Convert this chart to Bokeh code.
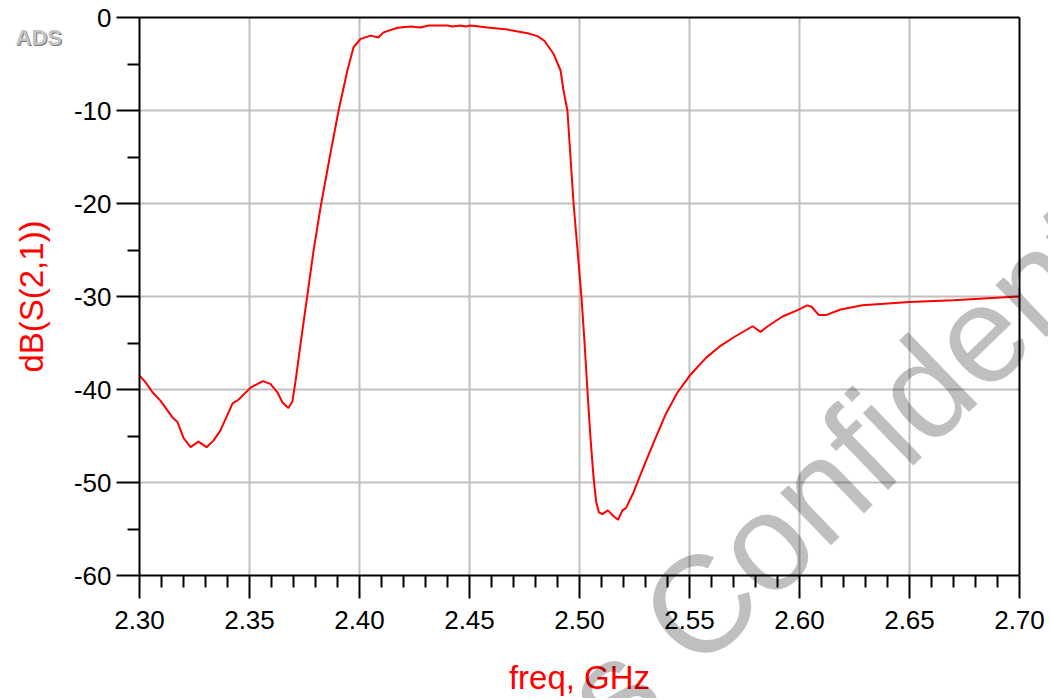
import math
from bokeh.plotting import figure
from bokeh.models import FixedTicker, NumeralTickFormatter, Label, Range1d, LinearAxis
from bokeh.embed import file_html
from bokeh.resources import INLINE

# ---- data ----
freq_ghz = [
    2.3000, 2.3027, 2.3059, 2.3095, 2.3150, 2.3173, 2.3200, 2.3232, 2.3268, 2.3305,
    2.3336, 2.3368, 2.3423, 2.3450, 2.3505, 2.3560, 2.3595, 2.3627, 2.3650, 2.3677,
    2.3695, 2.3710, 2.3732, 2.3764, 2.3791, 2.3823, 2.3868, 2.3905, 2.3945, 2.3973,
    2.4005, 2.4050, 2.4086, 2.4109, 2.4173, 2.4232, 2.4277, 2.4314, 2.4400, 2.4423,
    2.4459, 2.4482, 2.4505, 2.4582, 2.4673, 2.4764, 2.4809, 2.4840, 2.4882, 2.4914,
    2.4927, 2.4945, 2.4959, 2.4973, 2.4991, 2.5009, 2.5023, 2.5036, 2.5050, 2.5064,
    2.5076, 2.5088, 2.5104, 2.5129, 2.5154, 2.5175, 2.5195, 2.5211, 2.5245, 2.5278,
    2.5311, 2.5344, 2.5393, 2.5443, 2.5501, 2.5575, 2.5641, 2.5707, 2.5787, 2.5823,
    2.5856, 2.5923, 2.5989, 2.6035, 2.6055, 2.6088, 2.6120, 2.6187, 2.6286, 2.6500,
    2.6699, 2.7000,
]
s21_db = [
    -38.5, -39.2, -40.3, -41.2, -43.0, -43.5, -45.2, -46.2, -45.6, -46.2,
    -45.5, -44.4, -41.5, -41.1, -39.8, -39.1, -39.4, -40.3, -41.4, -42.0,
    -41.3, -39.0, -35.1, -29.7, -25.1, -20.4, -14.6, -10.0, -5.7, -3.2,
    -2.3, -1.95, -2.15, -1.6, -1.1, -0.97, -1.08, -0.86, -0.86, -0.97,
    -0.86, -0.97, -0.86, -1.08, -1.3, -1.7, -2.0, -2.5, -3.9, -5.7,
    -7.8, -10.0, -15.0, -20.0, -25.0, -30.1, -35.0, -40.1, -45.2, -49.5,
    -52.1, -53.2, -53.4, -53.0, -53.6, -54.0, -53.0, -52.75, -51.1, -49.1,
    -47.2, -45.3, -42.6, -40.4, -38.5, -36.6, -35.3, -34.3, -33.2, -33.8,
    -33.2, -32.15, -31.5, -30.95, -31.1, -32.0, -32.0, -31.4, -30.95, -30.6,
    -30.4, -30.0,
]

x_major_ticks = [2.30, 2.35, 2.40, 2.45, 2.50, 2.55, 2.60, 2.65, 2.70]
x_minor_ticks = [2.31, 2.32, 2.33, 2.34, 2.36, 2.37, 2.38, 2.39, 2.41, 2.42, 2.43, 2.44,
                 2.46, 2.47, 2.48, 2.49, 2.51, 2.52, 2.53, 2.54, 2.56, 2.57, 2.58, 2.59,
                 2.61, 2.62, 2.63, 2.64, 2.66, 2.67, 2.68, 2.69]
y_major_ticks = [0, -10, -20, -30, -40, -50, -60]
y_minor_ticks = [-5, -15, -25, -35, -45, -55]

x_label = "freq, GHz"
y_label = "dB(S(2,1))"
watermark_lead = "Technologies"
watermark_main = "Confidential"
logo_text = "ADS"

FONT = "Liberation Sans"

# ---- layout: the frame covers the whole canvas, axes sit at fixed locations ----
W, H = 1048, 698
PLOT_L, PLOT_R, PLOT_T, PLOT_B = 139, 1019, 17, 575     # pixel box of the data area
x0, x1 = x_major_ticks[0], x_major_ticks[-1]
y_top, y_bot = y_major_ticks[0], y_major_ticks[-1]
sx = (PLOT_R - PLOT_L) / (x1 - x0)
sy = (PLOT_B - PLOT_T) / (y_top - y_bot)

p = figure(width=W, height=H, output_backend="svg", toolbar_location=None,
           x_axis_location=None, y_axis_location=None,
           x_range=Range1d(x0 - PLOT_L / sx, x1 + (W - PLOT_R) / sx),
           y_range=Range1d(y_bot - (H - PLOT_B) / sy, y_top + PLOT_T / sy),
           min_border=0, min_border_left=0, min_border_right=0,
           min_border_top=0, min_border_bottom=0)
p.background_fill_color = "white"
p.border_fill_color = "white"
p.outline_line_color = None
for g in p.grid:
    g.visible = False

xaxis = LinearAxis(fixed_location=y_bot, bounds=(x0, x1),
                   ticker=FixedTicker(ticks=x_major_ticks, minor_ticks=x_minor_ticks),
                   formatter=NumeralTickFormatter(format="0.00"))
yaxis = LinearAxis(fixed_location=x0, bounds=(y_bot, y_top),
                   ticker=FixedTicker(ticks=y_major_ticks, minor_ticks=y_minor_ticks),
                   formatter=NumeralTickFormatter(format="0"))
p.add_layout(xaxis, "below")
p.add_layout(yaxis, "left")

for ax in (xaxis, yaxis):
    ax.axis_line_color = "black"
    ax.axis_line_width = 2
    ax.major_tick_line_color = "black"
    ax.major_tick_line_width = 2
    ax.minor_tick_line_color = "black"
    ax.minor_tick_line_width = 2
    ax.major_tick_in = 0
    ax.minor_tick_in = 0
    ax.major_tick_out = 23
    ax.minor_tick_out = 12
    ax.major_label_text_font = FONT
    ax.major_label_text_font_size = "26px"
    ax.major_label_text_color = "black"
    ax.axis_label_text_font = FONT
    ax.axis_label_text_font_size = "33px"
    ax.axis_label_text_font_style = "normal"
    ax.axis_label_text_color = "red"

xaxis.major_label_standoff = 12
yaxis.major_label_standoff = 5
xaxis.axis_label = x_label
yaxis.axis_label = y_label
xaxis.axis_label_standoff = 27
yaxis.axis_label_standoff = 21

# grid lines (inner major ticks only) and the top / right frame edges
gx = x_major_ticks[1:-1]
gy = y_major_ticks[1:-1]
p.segment(x0=gx, y0=[y_bot] * len(gx), x1=gx, y1=[y_top] * len(gx),
          line_color="#c0c0c0", line_width=2)
p.segment(x0=[x0] * len(gy), y0=gy, x1=[x1] * len(gy), y1=gy,
          line_color="#c0c0c0", line_width=2)

p.line(freq_ghz, s21_db, line_color="red", line_width=2)

p.segment(x0=[x0, x1], y0=[y_top, y_bot], x1=[x1, x1], y1=[y_top, y_top],
          line_color="black", line_width=2)

# watermark (screen units, y measured upward from the canvas bottom)
wm_angle = math.radians(44)
wm_size = 138
ax_x, ax_y = 663.3, H - 639.4
dx, dy = math.cos(wm_angle), math.sin(wm_angle)
space = 0.278 * wm_size
common = dict(x_units="screen", y_units="screen", angle=wm_angle, text_font=FONT,
              text_font_size=f"{wm_size}px", text_color="black", text_alpha=0.25,
              text_baseline="middle")
p.add_layout(Label(x=ax_x, y=ax_y, text=watermark_main, text_align="left", **common))
p.add_layout(Label(x=ax_x - space * dx, y=ax_y - space * dy, text=watermark_lead,
                   text_align="right", **common))

# ADS logo
p.add_layout(Label(x=16, y=H - 37.5, x_units="screen", y_units="screen", text=logo_text,
                   text_font=FONT, text_font_size="22px", text_font_style="bold",
                   text_color="#7a7a7a", text_baseline="middle"))
p.add_layout(Label(x=15, y=H - 36.5, x_units="screen", y_units="screen", text=logo_text,
                   text_font=FONT, text_font_size="22px", text_font_style="bold",
                   text_color="#c4c4c4", text_baseline="middle"))

open("out.html", "w").write(file_html(p, INLINE))
